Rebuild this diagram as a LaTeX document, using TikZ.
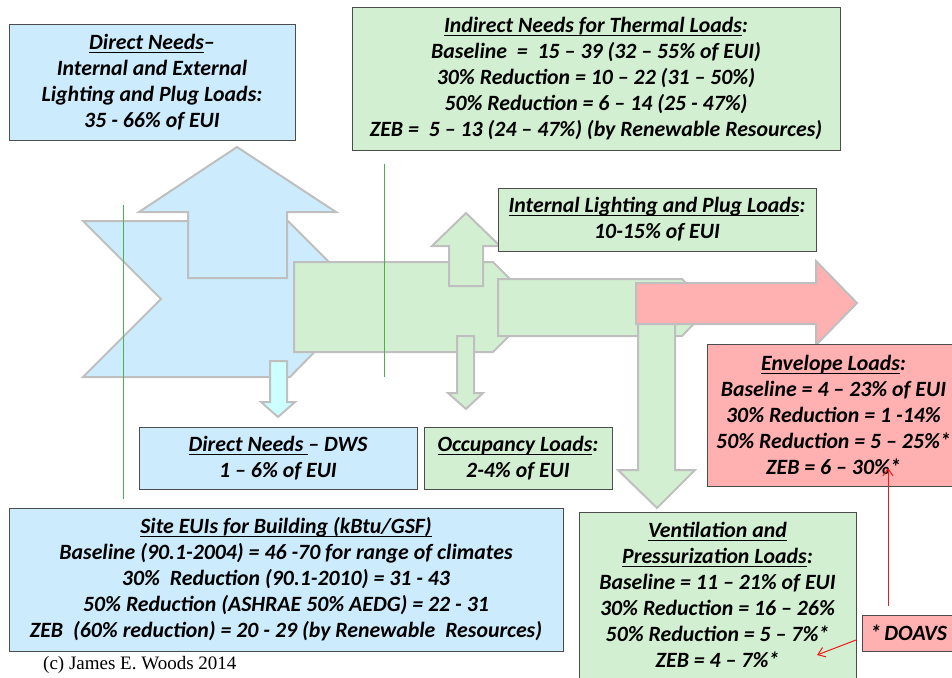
\documentclass[tikz,border=0pt]{standalone}
\usepackage{fontspec}
\setmainfont{Carlito}
\newfontfamily\creditfont{Liberation Serif}
\usetikzlibrary{arrows.meta}
\definecolor{needblue}{HTML}{CCEBFC}
\definecolor{dwscyan}{HTML}{CCFFFF}
\definecolor{loadgreen}{HTML}{D2EFD2}
\definecolor{envpink}{HTML}{FFB1B1}
\definecolor{flowgray}{HTML}{BFBFBF}
\definecolor{guidegreen}{HTML}{4CAF50}
\definecolor{noteline}{HTML}{F01818}
\newsavebox\undlbox
\newcommand{\undl}[1]{\sbox\undlbox{#1}\rlap{\rule[-3.5pt]{\wd\undlbox}{1.1pt}}\usebox\undlbox}

\begin{document}
\begin{tikzpicture}[x=1pt, y=-1pt, line join=miter,
  >={Straight Barb[length=7pt,width=10pt]},
  flow/.style={draw=flowgray, line width=2pt},
  infobox/.style={draw=black!70, line width=0.9pt, inner sep=0pt, align=center,
    font=\bfseries\itshape\fontsize{21.8}{26}\selectfont},
  guide/.style={draw=guidegreen, line width=0.8pt},
  noteline/.style={draw=noteline, line width=1pt, ->}]
\useasboundingbox (0,0) rectangle (952,677);

% Direct needs: chevron and its outlets
\filldraw[flow, fill=needblue] (83,221) -- (288,221) -- (366,299) -- (290,377) -- (83,377) -- (161,299) -- cycle;
\filldraw[flow, fill=needblue] (188,278) -- (188,212) -- (139,212) -- (237,147) -- (336,212) -- (287,212) -- (287,278) -- cycle;
\filldraw[flow, fill=dwscyan] (270,361) -- (287,361) -- (287,402) -- (295,402) -- (278,417) -- (261,402) -- (270,402) -- cycle;

% Indirect needs for thermal loads
\filldraw[flow, fill=loadgreen] (294,262) -- (493,262) -- (538,307) -- (493,352) -- (294,352) -- cycle;
\filldraw[flow, fill=loadgreen] (449,286) -- (449,246) -- (432,246) -- (466,213) -- (500,246) -- (483,246) -- (483,286) -- cycle;
\filldraw[flow, fill=loadgreen] (457,336) -- (474,336) -- (474,393) -- (483,393) -- (466,409) -- (448,393) -- (457,393) -- cycle;
\filldraw[flow, fill=loadgreen] (498,279) -- (682,279) -- (710,307) -- (682,336) -- (498,336) -- cycle;
\filldraw[flow, fill=loadgreen] (638,290) -- (675,290) -- (675,470) -- (695,470) -- (657,508) -- (618,470) -- (638,470) -- cycle;

% Envelope loads
\filldraw[flow, fill=envpink] (636,283) -- (816,283) -- (816,261) -- (857,303) -- (816,345) -- (816,324) -- (636,324) -- cycle;

% Guide lines
\draw[guide] (123,205) -- (123,499);
\draw[guide] (384,164) -- (384,377);

% Text boxes
\node[infobox, fill=needblue, minimum width=286, minimum height=116] (direct) at (152,82)
  {\undl{Direct Needs}--\\ Internal and External\\ Lighting and Plug Loads:\\ 35 - 66\% of EUI};
\node[infobox, fill=loadgreen, minimum width=488, minimum height=143] (thermal) at (596,78.5)
  {\undl{Indirect Needs for Thermal Loads}:\\ Baseline\ \ =\ \ 15 – 39 (32 – 55\% of EUI)\\
   30\% Reduction = 10 – 22 (31 – 50\%)\\ 50\% Reduction = 6 – 14 (25 - 47\%)\\
   ZEB =\ \ 5 – 13 (24 – 47\%) (by Renewable Resources)};
\node[infobox, fill=loadgreen, minimum width=318, minimum height=63] (lighting) at (657,219.5)
  {\undl{Internal Lighting and Plug Loads}:\\ 10-15\% of EUI};
\node[infobox, fill=envpink, minimum width=253, minimum height=142] (envelope) at (833.5,415)
  {\undl{Envelope Loads}:\\ Baseline = 4 – 23\% of EUI\\ 30\% Reduction = 1 -14\%\\
   50\% Reduction = 5 – 25\%*\\ ZEB = 6 – 30\%*};
\node[infobox, fill=needblue, minimum width=278, minimum height=62] (dws) at (278,458)
  {\undl{Direct Needs }– DWS\\ 1 – 6\% of EUI};
\node[infobox, fill=loadgreen, minimum width=188, minimum height=62] (occupancy) at (518,458)
  {\undl{Occupancy Loads}:\\ 2-4\% of EUI};
\node[infobox, fill=needblue, minimum width=554, minimum height=143] (site) at (286,579.5)
  {\undl{Site EUIs for Building (kBtu/GSF)}\\ Baseline (90.1-2004) = 46 -70 for range of climates\\
   30\%\ \ Reduction (90.1-2010) = 31 - 43\\ 50\% Reduction (ASHRAE 50\% AEDG) = 22 - 31\\
   ZEB\ \ (60\% reduction) = 20 - 29 (by Renewable\ \ Resources)};
\node[infobox, fill=loadgreen, minimum width=277, minimum height=166] (ventilation) at (717.5,595)
  {\undl{Ventilation and}\\ \undl{Pressurization Loads}:\\ Baseline = 11 – 21\% of EUI\\
   30\% Reduction = 16 – 26\%\\ 50\% Reduction = 5 – 7\%*\\ ZEB = 4 – 7\%*};
\node[infobox, fill=envpink, minimum width=110, minimum height=36, text width=94, align=left] (doavs) at (917,633) {*\,DOAVS};
\node[font=\creditfont\fontsize{19}{20}\selectfont, anchor=west, inner sep=0pt] (credit) at (43,665)
  {(c) James E. Woods 2014};

% DOAVS notes
\coordinate (envfoot) at (888,606);
\coordinate (envmark) at (888,468);
\coordinate (ventfoot) at (856,640);
\coordinate (ventmark) at (817,655);
\draw[noteline] (envfoot) -- (envmark);
\draw[noteline] (ventfoot) -- (ventmark);
\end{tikzpicture}
\end{document}
